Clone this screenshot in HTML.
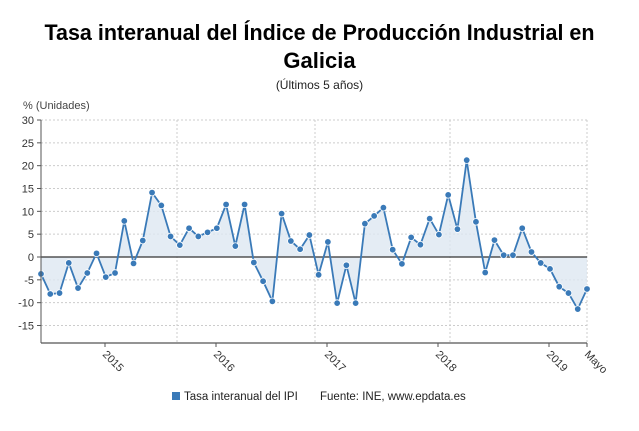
<!DOCTYPE html>
<html><head><meta charset="utf-8"><style>
body{margin:0;background:#fff}
svg{display:block;font-family:"Liberation Sans",sans-serif}
</style></head><body>
<svg id="s" width="639" height="431" xmlns="http://www.w3.org/2000/svg">
<text x="319.5" y="40" text-anchor="middle" font-size="22" font-weight="bold" textLength="550" lengthAdjust="spacingAndGlyphs">Tasa interanual del Índice de Producción Industrial en</text>
<text x="319.5" y="68" text-anchor="middle" font-size="22" font-weight="bold">Galicia</text>
<text x="319.5" y="89" text-anchor="middle" font-size="12" fill="#222">(Últimos 5 años)</text>
<text x="23" y="109" font-size="11" fill="#444">% (Unidades)</text>
<g id="g"></g>
<rect x="172" y="392" width="8" height="8" fill="#3a7ab8"/>
<text x="184" y="400" font-size="11.5" fill="#222">Tasa interanual del IPI</text>
<text x="320" y="400" font-size="11.5" fill="#222">Fuente: INE, www.epdata.es</text>
</svg>
<script>
var v=[-3.7,-8.1,-7.9,-1.3,-6.8,-3.5,0.8,-4.4,-3.5,7.9,-1.4,3.6,14.1,11.3,4.5,2.6,6.3,4.5,5.4,6.3,11.5,2.4,11.5,-1.2,-5.3,-9.7,9.5,3.5,1.7,4.8,-3.9,3.3,-10.1,-1.8,-10.1,7.3,9.0,10.8,1.6,-1.5,4.3,2.7,8.4,4.9,13.6,6.1,21.2,7.7,-3.4,3.7,0.4,0.4,6.3,1.1,-1.3,-2.6,-6.5,-7.9,-11.4,-7.0];
var L=41,R=587,T=120,B=343,Z=257,k=(Z-T)/30,dx=(R-L)/59;
function Y(a){return Z-a*k}
var h='';
for(var t=-15;t<=30;t+=5){var y=Y(t);h+='<line x1="'+L+'" x2="'+R+'" y1="'+y+'" y2="'+y+'" stroke="#ccc" stroke-dasharray="2,2"/>';h+='<text x="34" y="'+(y+4)+'" text-anchor="end" font-size="11" fill="#333">'+t+'</text>';h+='<line x1="'+(L-4)+'" x2="'+L+'" y1="'+y+'" y2="'+y+'" stroke="#555"/>';}
[177,315,450,587].forEach(function(x){h+='<line x1="'+x+'" x2="'+x+'" y1="'+T+'" y2="'+B+'" stroke="#ccc" stroke-dasharray="2,2"/>'});
var pts=v.map(function(a,i){return (L+i*dx).toFixed(1)+','+Y(a).toFixed(1)});
h+='<polygon points="'+L+','+Z+' '+pts.join(' ')+' '+R+','+Z+'" fill="#dde7f1" opacity="0.8"/>';
h+='<line x1="'+L+'" x2="'+R+'" y1="'+Z+'" y2="'+Z+'" stroke="#333" stroke-width="1.3"/>';
h+='<polyline points="'+pts.join(' ')+'" fill="none" stroke="#3a7ab8" stroke-width="1.8"/>';
v.forEach(function(a,i){h+='<circle cx="'+(L+i*dx)+'" cy="'+Y(a)+'" r="3.3" fill="#3a7ab8" stroke="#fff" stroke-width="0.8"/>'});
h+='<line x1="'+L+'" x2="'+L+'" y1="'+T+'" y2="'+B+'" stroke="#555"/>';
h+='<line x1="'+L+'" x2="'+R+'" y1="'+B+'" y2="'+B+'" stroke="#555" stroke-width="1.3"/>';
[[105,'2015'],[216,'2016'],[327,'2017'],[438,'2018'],[549,'2019'],[587,'Mayo']].forEach(function(p){h+='<line x1="'+p[0]+'" x2="'+p[0]+'" y1="'+B+'" y2="'+(B+4)+'" stroke="#555"/>';h+='<text transform="translate('+(p[0]-3)+','+(B+12)+') rotate(45)" font-size="11" fill="#333">'+p[1]+'</text>'});
document.getElementById('g').innerHTML=h;
</script>
</body></html>
